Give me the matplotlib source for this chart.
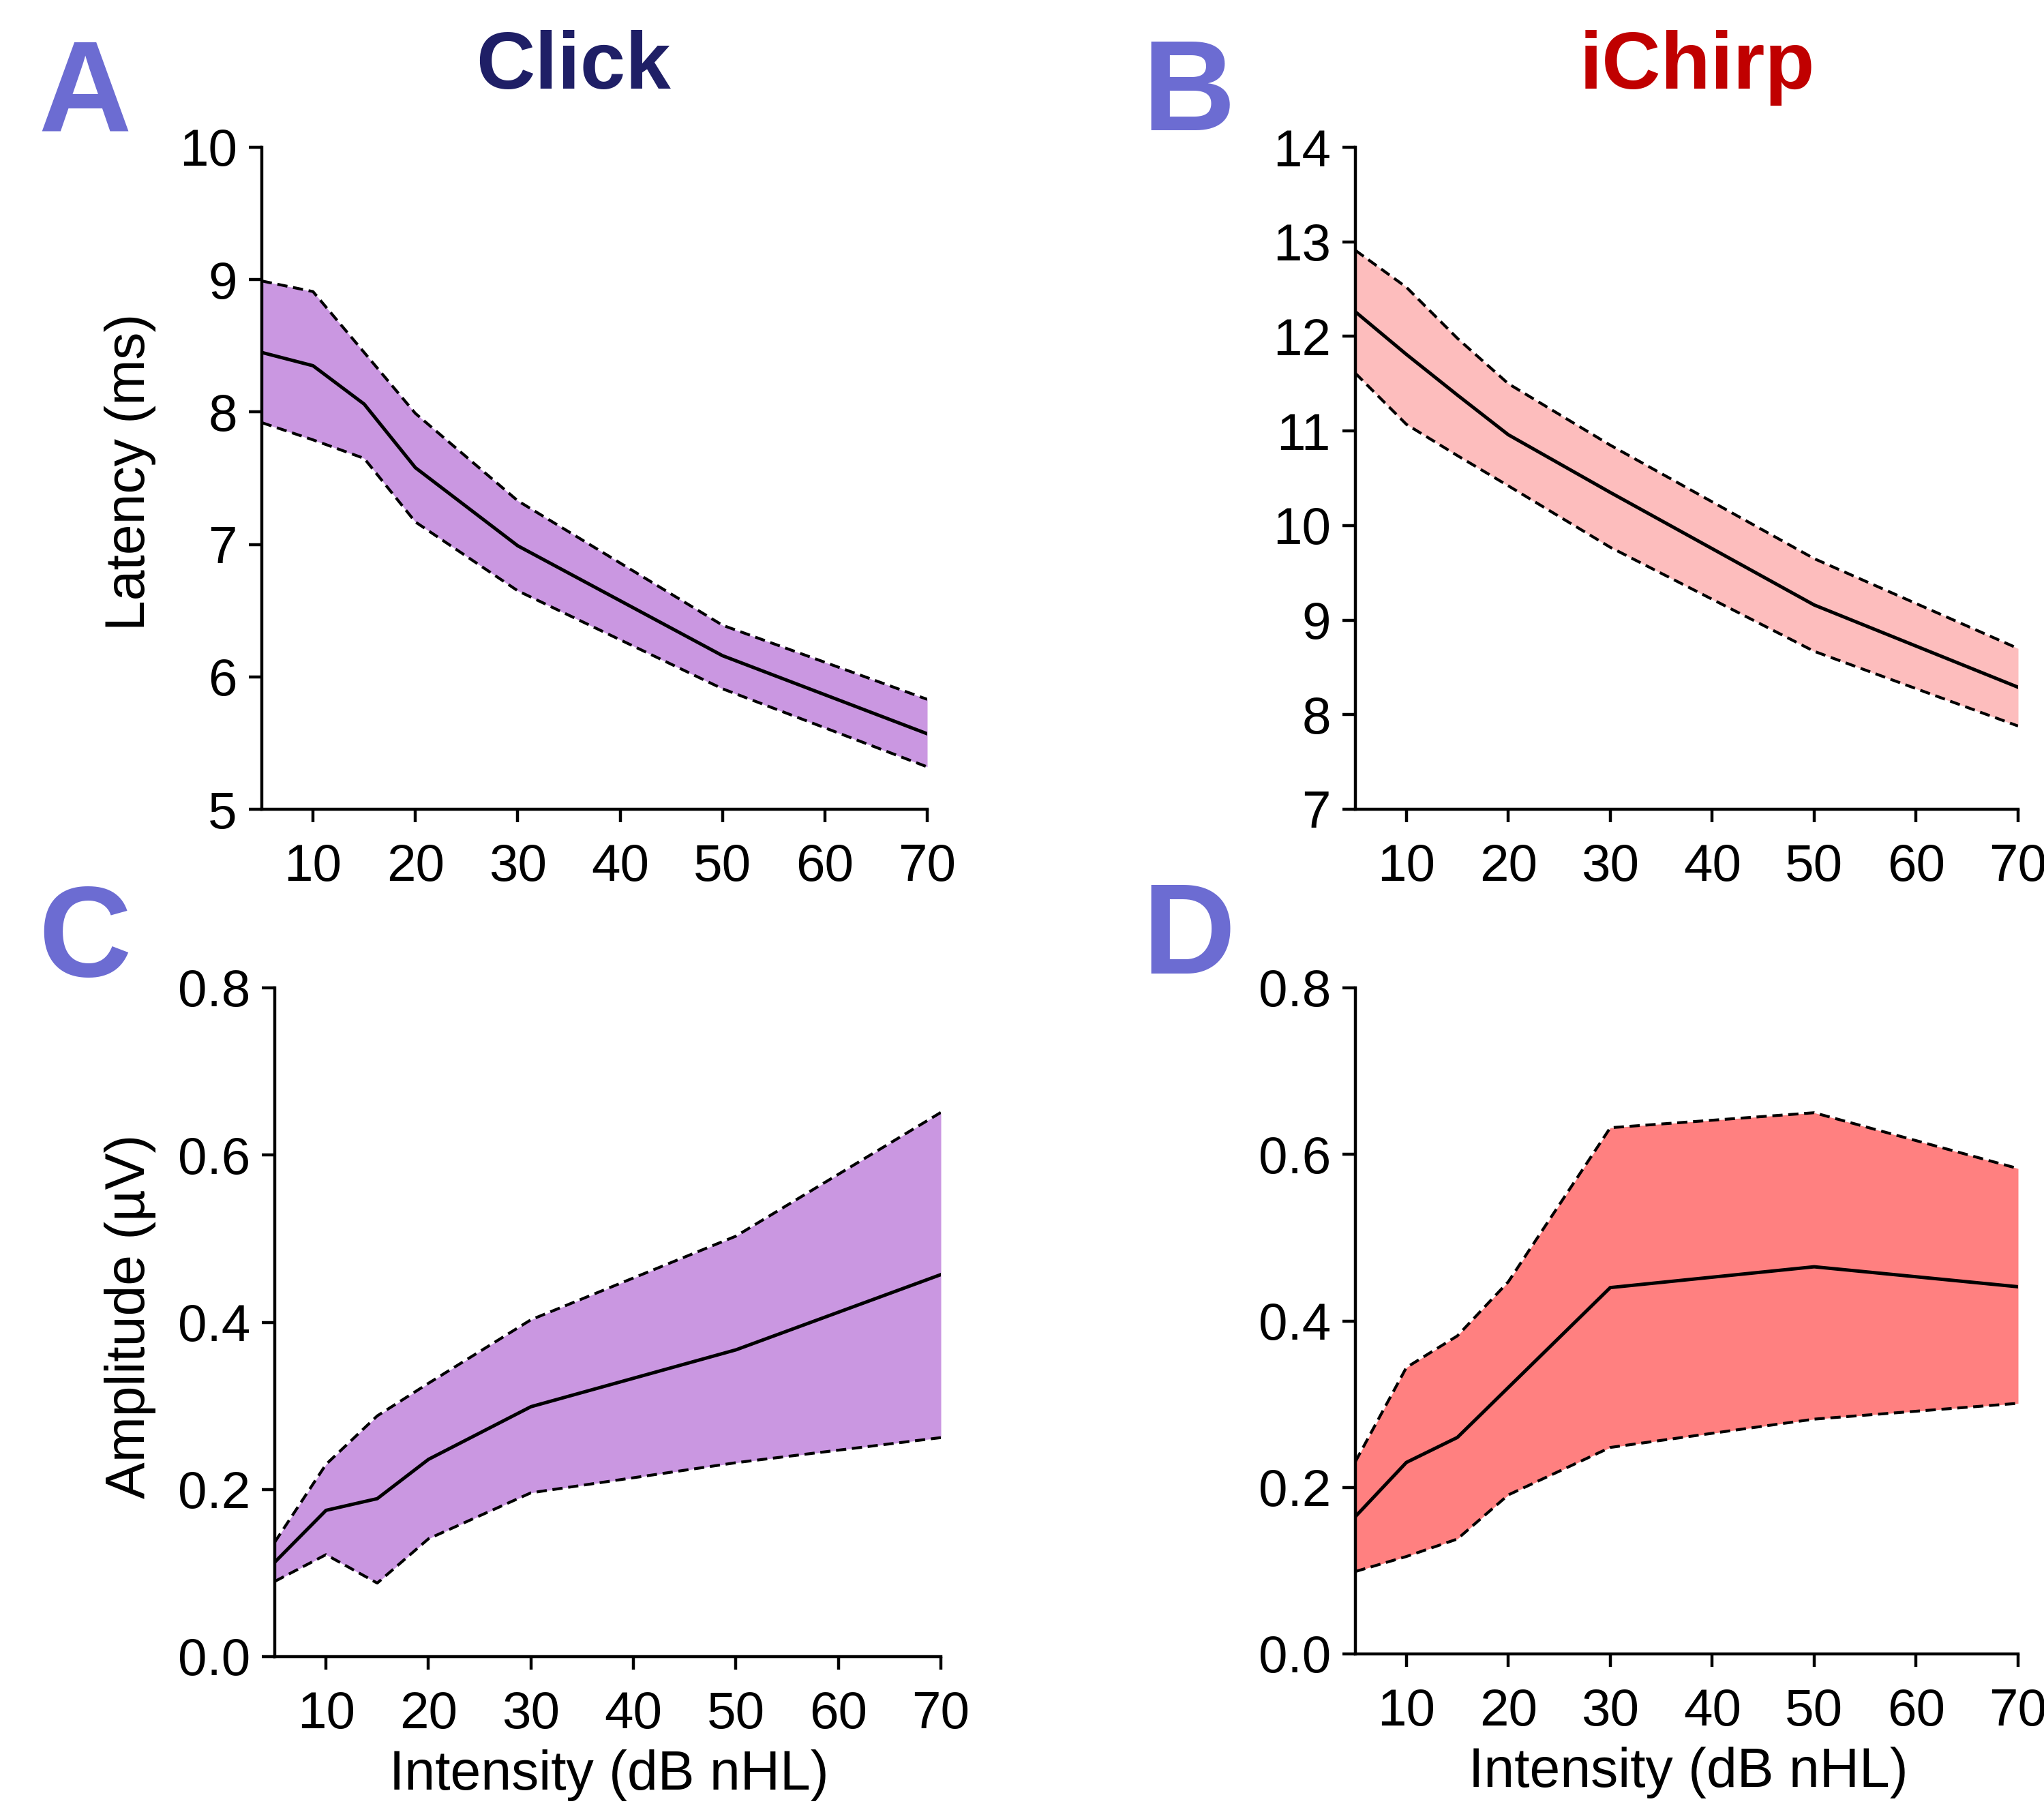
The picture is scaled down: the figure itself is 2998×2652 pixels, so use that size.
import matplotlib
matplotlib.use('Agg')
import matplotlib.pyplot as plt
import numpy as np

plt.rcParams['font.family'] = ['Liberation Sans', 'DejaVu Sans']

# intensities (dB nHL)
intensity = [5, 10, 15, 20, 30, 50, 70]

# latency, click
lat_click_mean = [8.45, 8.35, 8.06, 7.58, 6.99, 6.16, 5.57]
lat_click_up = [8.99, 8.91, 8.45, 7.99, 7.33, 6.39, 5.83]
lat_click_lo = [7.92, 7.79, 7.65, 7.17, 6.65, 5.91, 5.32]

# latency, iChirp
lat_chirp_mean = [12.26, 11.81, 11.38, 10.96, 10.35, 9.16, 8.29]
lat_chirp_up = [12.91, 12.52, 11.98, 11.50, 10.85, 9.65, 8.70]
lat_chirp_lo = [11.61, 11.07, 10.74, 10.42, 9.77, 8.67, 7.88]

# amplitude, click
amp_click_mean = [0.113, 0.175, 0.189, 0.236, 0.299, 0.367, 0.457]
amp_click_up = [0.137, 0.230, 0.288, 0.327, 0.403, 0.503, 0.651]
amp_click_lo = [0.090, 0.122, 0.088, 0.141, 0.196, 0.232, 0.262]

# amplitude, iChirp
amp_chirp_mean = [0.165, 0.230, 0.260, 0.320, 0.440, 0.465, 0.441]
amp_chirp_up = [0.231, 0.344, 0.382, 0.447, 0.632, 0.650, 0.583]
amp_chirp_lo = [0.099, 0.117, 0.138, 0.191, 0.248, 0.282, 0.301]

x_ticks = [10, 20, 30, 40, 50, 60, 70]

W, H = 2998, 2652
fig = plt.figure(figsize=(W / 100, H / 100), dpi=100)


def box(l, r, t, b):
    return [l / W, 1 - b / H, (r - l) / W, (b - t) / H]


def panel(rect, mean, up, lo, fill, ylim, yticks, yfmt):
    ax = fig.add_axes(rect)
    ax.fill_between(intensity, lo, up, color=fill, lw=0)
    ax.plot(intensity, up, color='black', lw=3.0, ls=(0, (3.6, 2.0)))
    ax.plot(intensity, lo, color='black', lw=3.0, ls=(0, (3.6, 2.0)))
    ax.plot(intensity, mean, color='black', lw=3.6)
    ax.set_xlim(5, 70)
    ax.set_ylim(*ylim)
    ax.set_xticks(x_ticks)
    ax.set_yticks(yticks)
    ax.set_yticklabels([yfmt.format(v) for v in yticks])
    for s in ['top', 'right']:
        ax.spines[s].set_visible(False)
    for s in ['left', 'bottom']:
        ax.spines[s].set_linewidth(3.2)
    ax.tick_params(axis='both', direction='out', length=14, width=3.2,
                   labelsize=55)
    ax.tick_params(axis='x', pad=22)
    ax.tick_params(axis='y', pad=12)
    return ax


purple = '#CA97E1'
pink = '#FDBDBD'
salmon = '#FF8080'

panel(box(384, 1360, 216, 1187), lat_click_mean, lat_click_up, lat_click_lo,
      purple, (5, 10), [5, 6, 7, 8, 9, 10], '{:.0f}')
panel(box(1988, 2960, 216, 1187), lat_chirp_mean, lat_chirp_up, lat_chirp_lo,
      pink, (7, 14), [7, 8, 9, 10, 11, 12, 13, 14], '{:.0f}')
panel(box(403, 1380, 1449, 2430), amp_click_mean, amp_click_up, amp_click_lo,
      purple, (0, 0.8), [0.0, 0.2, 0.4, 0.6, 0.8], '{:.1f}')
panel(box(1988, 2960, 1449, 2426), amp_chirp_mean, amp_chirp_up, amp_chirp_lo,
      salmon, (0, 0.8), [0.0, 0.2, 0.4, 0.6, 0.8], '{:.1f}')

letter_col = '#6C6CD2'
for lab, x, y in [('A', 124, 191), ('B', 1744, 191), ('C', 124, 1432), ('D', 1744, 1428)]:
    fig.text(x / W, 1 - y / H, lab, fontsize=136, fontweight='bold',
             color=letter_col, ha='center', va='baseline')

fig.text(841 / W, 1 - 130 / H, 'Click', fontsize=86, fontweight='bold',
         color='#1F1F66', ha='center', va='baseline')
fig.text(2489 / W, 1 - 130 / H, 'iChirp', fontsize=86, fontweight='bold',
         color='#C00000', ha='center', va='baseline')

fig.text(191 / W, 1 - 692 / H, 'Latency (ms)', fontsize=58, rotation=90,
         ha='center', va='center')
fig.text(191 / W, 1 - 1931 / H, 'Amplitude (µV)', fontsize=58, rotation=90,
         ha='center', va='center')
fig.text(893 / W, 1 - 2604 / H, 'Intensity (dB nHL)', fontsize=58,
         ha='center', va='center')
fig.text(2476 / W, 1 - 2600 / H, 'Intensity (dB nHL)', fontsize=58,
         ha='center', va='center')

fig.savefig('out.png', dpi=100)
